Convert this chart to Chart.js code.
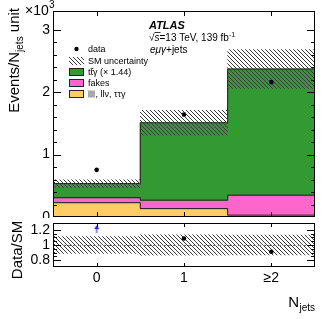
<!DOCTYPE html>
<html>
<head>
<meta charset="utf-8">
<script src="https://cdn.jsdelivr.net/npm/chart.js@4.4.1/dist/chart.umd.min.js"></script>
<style>
    html, body { margin: 0; padding: 0; background: #fff; }
    #wrap { position: relative; width: 332px; height: 319px; overflow: hidden; }
    canvas { position: absolute; left: 0; }
    #main { top: 0; }
    #ratio { top: 218px; }
</style>
</head>
<body>
<div id="wrap">
    <canvas id="main" width="332" height="218"></canvas>
    <canvas id="ratio" width="332" height="101"></canvas>
</div>
<script>
// N_jets bins
var binLabels = ['0', '1', '\u22652'];
var binEdges = [-0.5, 0.5, 1.5, 2.5];
// events per N_jets unit, in units of 10^3
var otherBkg = [0.23, 0.135, 0.03];
var fakes = [0.08, 0.135, 0.32];
var ttgamma = [0.225, 1.24, 2.02];
var smUnc = [0.06, 0.2, 0.31];
var dataVals = [0.755, 1.64, 2.16];

var mainMax = 3.3;
var ratioMin = 0.71;
var ratioMax = 1.29;

var FONT = "'Liberation Sans', Arial, Helvetica, sans-serif";
var colorMap = {
    tt: '#339933',
    fakes: '#ff66cc',
    other: '#ffcc66',
    grey: '#aaaaaa',
    line: '#222222',
};

Chart.defaults.font.family = FONT;
Chart.defaults.color = '#000';

function makeHatch(canvasId) {
    var c = document.createElement('canvas');
    c.width = 4; c.height = 4;
    var g = c.getContext('2d');
    g.strokeStyle = '#3a3a3a';
    g.lineWidth = 1;
    g.beginPath();
    g.moveTo(-1, -1); g.lineTo(5, 5);
    g.moveTo(-1, 3); g.lineTo(1, 5);
    g.moveTo(3, -1); g.lineTo(5, 1);
    g.stroke();
    return document.getElementById(canvasId).getContext('2d').createPattern(c, 'repeat');
}

function makeArrow() {
    var c = document.createElement('canvas');
    c.width = 6; c.height = 8;
    var g = c.getContext('2d');
    g.fillStyle = '#1f1fff';
    g.beginPath();
    g.moveTo(3, 0); g.lineTo(0.5, 4); g.lineTo(5.5, 4); g.closePath();
    g.fill();
    g.fillRect(2.5, 3, 1, 5);
    return c;
}

// text in several pieces: [text, font, dy]
function drawRich(ctx, x, y, parts, align) {
    var w = 0;
    parts.forEach(function(p) { ctx.font = p[1]; w += ctx.measureText(p[0]).width; });
    var cx = x;
    if (align === 'right') cx = x - w;
    if (align === 'center') cx = x - w / 2;
    ctx.textAlign = 'left';
    ctx.textBaseline = 'alphabetic';
    parts.forEach(function(p) {
        ctx.font = p[1];
        ctx.fillText(p[0], cx, y + (p[2] || 0));
        cx += ctx.measureText(p[0]).width;
    });
}

function drawFrame(chart, isMajor, majorLen, minorLen, xLen) {
    var ctx = chart.ctx, a = chart.chartArea;
    var ys = chart.scales.y, xs = chart.scales.x;
    ctx.save();
    ctx.strokeStyle = '#000';
    ctx.lineWidth = 1;
    ctx.beginPath();
    ys.ticks.forEach(function(t) {
        if (t.value <= ys.min || t.value >= ys.max) return;
        var y = Math.round(ys.getPixelForValue(t.value)) + 0.5;
        var len = isMajor(t.value) ? majorLen : minorLen;
        ctx.moveTo(a.left, y); ctx.lineTo(a.left + len, y);
        ctx.moveTo(a.right, y); ctx.lineTo(a.right - len, y);
    });
    binLabels.forEach(function(l, i) {
        var x = Math.round(xs.getPixelForValue(i)) + 0.5;
        ctx.moveTo(x, a.top); ctx.lineTo(x, a.top + xLen);
        ctx.moveTo(x, a.bottom); ctx.lineTo(x, a.bottom - xLen);
    });
    ctx.stroke();
    ctx.strokeRect(a.left + 0.5, a.top + 0.5, a.right - a.left - 1, a.bottom - a.top - 1);
    ctx.restore();
}

// fixed axis sizes so both panels line up
function fixY(s) {
    s.width = 53;
    s.paddingTop = 0;
    s.paddingBottom = 0;
}

// stacked histogram built as floating bars
var total = [], otherBars = [], fakesBars = [], ttBars = [], uncBars = [];
var otherTop = [], fakesTop = [];
var ratioVals = [], ratioArrows = [], ratioUnc = [];
for (var i = 0; i < binLabels.length; i++) {
    var o = otherBkg[i], f = o + fakes[i], t = f + ttgamma[i];
    total.push(t);
    otherTop.push(o);
    fakesTop.push(f);
    otherBars.push([0, o]);
    fakesBars.push([o, f]);
    ttBars.push([f, t]);
    uncBars.push([t - smUnc[i], t + smUnc[i]]);
    var r = dataVals[i] / t;
    var ru = smUnc[i] / t;
    ratioUnc.push([1 - ru, 1 + ru]);
    if (r > ratioMax) {
        ratioVals.push(null);
        ratioArrows.push(ratioMax - 0.08);
    } else {
        ratioVals.push(r);
        ratioArrows.push(null);
    }
}

// histogram outline (step line along bin edges)
function stepPoints(tops) {
    var pts = tops.map(function(v, i) { return {x: binEdges[i], y: v}; });
    pts.push({x: binEdges[tops.length], y: tops[tops.length - 1]});
    return pts;
}

function stepLine(label, tops) {
    return {
        type: 'line', label: label, data: stepPoints(tops), order: 1.5, xAxisID: 'xe',
        stepped: 'before', borderColor: colorMap.line, borderWidth: 1,
        pointRadius: 0, fill: false,
    };
}

var hatchMain = makeHatch('main');
var hatchRatio = makeHatch('ratio');

function histBar(label, bars, color, order) {
    return {
        type: 'bar', label: label, data: bars, order: order,
        backgroundColor: color, borderWidth: 0,
        grouped: false, barPercentage: 1, categoryPercentage: 1, inflateAmount: 0.6,
    };
}

var mainDecor = {
    id: 'mainDecor',
    afterDraw: function(chart) {
        var ctx = chart.ctx;
        drawFrame(chart, function(v) { return Math.abs(v - Math.round(v)) < 1e-6; }, 8, 4, 5);
        ctx.save();
        ctx.fillStyle = '#000';
        // x10^3
        drawRich(ctx, 25, 15, [['\u00d710', '14px ' + FONT]]);
        drawRich(ctx, 49, 8, [['3', '10px ' + FONT]]);
        // y title
        ctx.save();
        ctx.translate(18.5, 8);
        ctx.rotate(-Math.PI / 2);
        drawRich(ctx, 0, 0, [['Events/N', '15px ' + FONT], ['jets', '10px ' + FONT, 4], [' unit', '15px ' + FONT]], 'right');
        ctx.restore();
        // labels
        drawRich(ctx, 149, 29, [['ATLAS', 'italic bold 11px ' + FONT]]);
        ctx.font = '10px ' + FONT;
        var sx = 149 + ctx.measureText('\u221a').width;
        drawRich(ctx, 149, 41, [['\u221a', '10px ' + FONT], ['s', 'italic 10px ' + FONT], ['=13 TeV, 139 fb', '10px ' + FONT], ['-1', '7px ' + FONT, -4]]);
        ctx.font = 'italic 10px ' + FONT;
        var sw = ctx.measureText('s').width;
        ctx.fillRect(sx, 32, sw + 1, 0.8);
        drawRich(ctx, 150, 53, [['e\u03bc\u03b3', 'italic 10px ' + FONT], ['+jets', '10px ' + FONT]]);

        // legend
        var bx = 69, bw = 15, bh = 8, tx = 88;
        var rows = [49, 61, 72, 83, 94];
        ctx.beginPath();
        ctx.arc(76.5, rows[0], 2.2, 0, 2 * Math.PI);
        ctx.fill();
        ctx.fillStyle = hatchMain;
        ctx.fillRect(bx, rows[1] - bh / 2, bw, bh);
        [colorMap.tt, colorMap.fakes, colorMap.other].forEach(function(c, k) {
            var y = rows[k + 2] - bh / 2;
            ctx.fillStyle = c;
            ctx.fillRect(bx, y, bw, bh);
            ctx.strokeStyle = colorMap.line;
            ctx.lineWidth = 1;
            ctx.strokeRect(bx + 0.5, y + 0.5, bw - 1, bh - 1);
        });
        ctx.fillStyle = '#000';
        var lf = '9px ' + FONT;
        drawRich(ctx, tx, rows[0] + 3, [['data', lf]]);
        drawRich(ctx, tx, rows[1] + 3, [['SM uncertainty', lf]]);
        drawRich(ctx, tx, rows[2] + 3, [['tt', lf], ['\u03b3 (\u00d7 1.44)', lf]]);
        ctx.font = lf;
        var tw = ctx.measureText('t').width;
        ctx.fillRect(tx + tw, rows[2] - 4, tw + 0.5, 0.7);
        drawRich(ctx, tx, rows[3] + 3, [['fakes', lf]]);
        ctx.fillStyle = colorMap.grey;
        ctx.fillRect(tx, rows[4] - 3.5, 7, 7);
        ctx.fillStyle = '#000';
        drawRich(ctx, tx + 7.5, rows[4] + 3, [[', ll\u03bd, \u03c4\u03c4\u03b3', lf]]);
        ctx.restore();
    }
};

var ratioDecor = {
    id: 'ratioDecor',
    afterDraw: function(chart) {
        var ctx = chart.ctx, a = chart.chartArea, ys = chart.scales.y;
        ctx.save();
        var y1 = Math.round(ys.getPixelForValue(1)) + 0.5;
        ctx.strokeStyle = '#777';
        ctx.setLineDash([3, 2]);
        ctx.beginPath();
        ctx.moveTo(a.left, y1); ctx.lineTo(a.right, y1);
        ctx.stroke();
        ctx.setLineDash([]);
        ctx.restore();
        drawFrame(chart, function(v) {
            var k = Math.round(v * 10);
            return Math.abs(v * 10 - k) < 1e-6 && k % 2 === 0;
        }, 8, 4, 4);
        ctx.save();
        ctx.fillStyle = '#000';
        ctx.save();
        ctx.translate(21.5, 32);
        ctx.rotate(-Math.PI / 2);
        drawRich(ctx, 0, 0, [['Data/SM', '15px ' + FONT]], 'center');
        ctx.restore();
        drawRich(ctx, 299, 89, [['N', '15px ' + FONT]], 'right');
        drawRich(ctx, 299.5, 93, [['jets', '10px ' + FONT]]);
        ctx.restore();
    }
};

var mainChart = new Chart(document.getElementById('main'), {
    type: 'bar',
    data: {
        labels: binLabels,
        datasets: [
            {
                type: 'line', label: 'data', data: dataVals, order: 0, showLine: false,
                pointRadius: 2.3, pointBackgroundColor: '#000', pointBorderWidth: 0,
            },
            {
                type: 'bar', label: 'SM uncertainty', data: uncBars, order: 1,
                backgroundColor: hatchMain, borderWidth: 0,
                grouped: false, barPercentage: 1, categoryPercentage: 1,
            },
            stepLine('ttgamma outline', total),
            stepLine('fakes outline', fakesTop),
            stepLine('other outline', otherTop),
            histBar('ttgamma', ttBars, colorMap.tt, 2),
            histBar('fakes', fakesBars, colorMap.fakes, 3),
            histBar('other', otherBars, colorMap.other, 4),
        ],
    },
    options: {
        responsive: false,
        animation: false,
        layout: {autoPadding: false, padding: {top: 11, right: 17, bottom: 1, left: 0}},
        plugins: {legend: {display: false}, tooltip: {enabled: false}},
        scales: {
            x: {display: false},
            xe: {
                type: 'linear', display: false, offset: false, bounds: 'ticks',
                min: binEdges[0], max: binEdges[binEdges.length - 1],
            },
            y: {
                min: 0, max: mainMax,
                grid: {display: false, drawTicks: false},
                border: {display: false},
                afterFit: fixY,
                ticks: {
                    stepSize: 0.2, autoSkip: false, maxTicksLimit: 100, padding: 3,
                    font: {size: 14},
                    callback: function(v) {
                        return Math.abs(v - Math.round(v)) < 1e-6 ? String(Math.round(v)) : '';
                    },
                },
            },
        },
    },
    plugins: [mainDecor],
});

var ratioChart = new Chart(document.getElementById('ratio'), {
    type: 'bar',
    data: {
        labels: binLabels,
        datasets: [
            {
                type: 'line', label: 'ratio', data: ratioVals, order: 0, showLine: false,
                pointRadius: 2.3, pointBackgroundColor: '#000', pointBorderWidth: 0,
            },
            {
                type: 'line', label: 'out of range', data: ratioArrows, order: 0, showLine: false,
                pointStyle: makeArrow(),
            },
            {
                type: 'bar', label: 'SM uncertainty', data: ratioUnc, order: 1,
                backgroundColor: hatchRatio, borderWidth: 0,
                grouped: false, barPercentage: 1, categoryPercentage: 1,
            },
        ],
    },
    options: {
        responsive: false,
        animation: false,
        layout: {autoPadding: false, padding: {top: 5, right: 17, bottom: 0, left: 0}},
        plugins: {legend: {display: false}, tooltip: {enabled: false}},
        scales: {
            x: {
                grid: {display: false, drawTicks: false},
                border: {display: false},
                afterFit: function(s) {
                    s.height = 52;
                    s.paddingLeft = 0;
                    s.paddingRight = 0;
                },
                ticks: {font: {size: 14}, padding: 3, maxRotation: 0},
            },
            y: {
                min: ratioMin, max: ratioMax,
                grid: {display: false, drawTicks: false},
                border: {display: false},
                afterFit: fixY,
                ticks: {
                    stepSize: 0.05, autoSkip: false, maxTicksLimit: 100, padding: 3,
                    font: {size: 14},
                    callback: function(v) {
                        var k = Math.round(v * 10);
                        if (Math.abs(v * 10 - k) < 1e-6 && k % 2 === 0) return String(k / 10);
                        return '';
                    },
                },
            },
        },
    },
    plugins: [ratioDecor],
});
</script>
</body>
</html>
